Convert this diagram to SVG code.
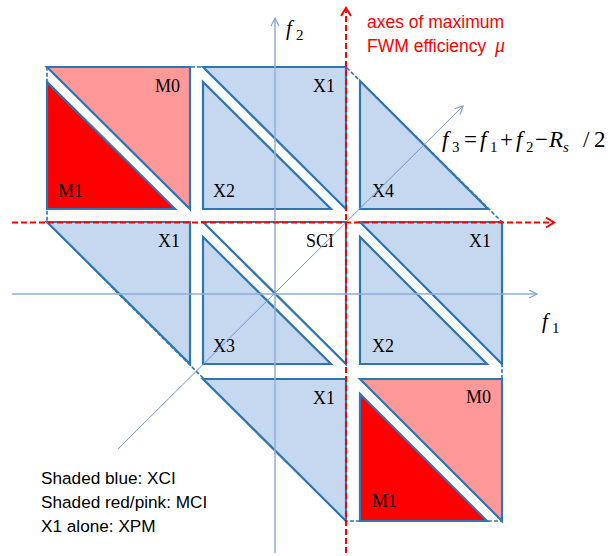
<svg xmlns="http://www.w3.org/2000/svg" width="612" height="556" viewBox="0 0 612 556">
<style>
.blue{fill:#C6D8EF;stroke:#2E75B6;stroke-width:2.2;stroke-linejoin:miter}
.pink{fill:#FF9999;stroke:#2E75B6;stroke-width:2.2}
.red{fill:#FF0000;stroke:#2E75B6;stroke-width:2.2}
.white{fill:#FFFFFF;stroke:#2E75B6;stroke-width:2.2}
.hex{fill:none;stroke:#2E75B6;stroke-width:1.6;stroke-dasharray:4 2}
.axis{stroke:#8EAEDC;stroke-width:1.5;fill:none}
.axis3{stroke:#6A96D4;stroke-width:1;fill:none}
.redax{stroke:#FF0000;stroke-width:2;stroke-dasharray:6 3;fill:none}
.lbl{font-family:"Liberation Serif","Times New Roman",serif;font-size:18px;fill:#000}
.math{font-family:"Liberation Serif","Times New Roman",serif;fill:#000}
.note{font-family:"Liberation Sans",Arial,sans-serif;font-size:17.2px;fill:#000}
.rnote{font-family:"Liberation Sans",Arial,sans-serif;font-size:17.5px;fill:#FF0000}
</style>
<defs>
<marker id="arR" markerUnits="userSpaceOnUse" markerWidth="14" markerHeight="14" refX="10" refY="6" orient="auto"><path d="M2,1 L10,6 L2,11" fill="none" stroke="#FF0000" stroke-width="2"/></marker>
<marker id="arB" markerUnits="userSpaceOnUse" markerWidth="12" markerHeight="12" refX="9" refY="5" orient="auto"><path d="M1,1 L9,5 L1,9" fill="none" stroke="#7FA3D8" stroke-width="1.2"/></marker>
</defs>
<rect width="612" height="556" fill="#FFFFFF"/>

<g id="hexagon"><polygon class="hex" points="47,67 346,67 502,222 502,521 346,521 47,222"/></g>

<g id="tl-M0"><polygon class="pink" points="47,67 190,67 190,209"/><text class="lbl" x="155" y="92">M0</text></g>
<g id="tl-M1"><polygon class="red" points="47,82 47,209 175,209"/><text class="lbl" x="58" y="197">M1</text></g>
<g id="tm-X1"><polygon class="blue" points="203,67 346,67 346,209"/><text class="lbl" x="313" y="92">X1</text></g>
<g id="tm-X2"><polygon class="blue" points="203,82 203,209 331,209"/><text class="lbl" x="213" y="197">X2</text></g>
<g id="tr-X4"><polygon class="blue" points="360,81 360,209 488,209"/><text class="lbl" x="372" y="197">X4</text></g>
<g id="ml-X1"><polygon class="blue" points="47,222 190,222 190,364"/><text class="lbl" x="158" y="247">X1</text></g>
<g id="mm-SCI"><polygon class="white" points="203,222 346,222 346,364"/><text class="lbl" x="306" y="247">SCI</text></g>
<g id="mm-X3"><polygon class="blue" points="203,237 203,364 331,364"/><text class="lbl" x="213" y="352">X3</text></g>
<g id="mr-X1"><polygon class="blue" points="360,222 502,222 502,364"/><text class="lbl" x="469" y="247">X1</text></g>
<g id="mr-X2"><polygon class="blue" points="360,237 360,364 487,364"/><text class="lbl" x="372" y="352">X2</text></g>
<g id="bm-X1"><polygon class="blue" points="203,379 346,379 346,521"/><text class="lbl" x="313" y="404">X1</text></g>
<g id="br-M0"><polygon class="pink" points="360,379 502,379 502,521"/><text class="lbl" x="466" y="403">M0</text></g>
<g id="br-M1"><polygon class="red" points="360,394 360,521 487,521"/><text class="lbl" x="372" y="507">M1</text></g>

<g id="connectors">
<line class="axis" x1="275" y1="553" x2="275" y2="18" marker-end="url(#arB)"/>
<line class="axis" x1="12" y1="294" x2="537" y2="294" marker-end="url(#arB)"/>
<line class="axis3" x1="118" y1="449" x2="463" y2="106" marker-end="url(#arB)"/>
<line class="redax" x1="346" y1="553" x2="346" y2="8" marker-end="url(#arR)"/>
<line class="redax" x1="12" y1="222.5" x2="554" y2="222.5" marker-end="url(#arR)"/>
</g>

<g id="axis-labels">
<text class="math" font-size="21"><tspan x="286" y="35" font-style="italic">f</tspan><tspan x="296" y="40" font-size="15">2</tspan></text>
<text class="math" font-size="21"><tspan x="542" y="328" font-style="italic">f</tspan><tspan x="552" y="333" font-size="15">1</tspan></text>
<text class="math" font-size="23"><tspan x="442" y="147" font-style="italic">f</tspan><tspan x="452" y="152" font-size="15">3</tspan><tspan x="464" y="147">=</tspan><tspan x="480" y="147" font-style="italic">f</tspan><tspan x="490" y="152" font-size="15">1</tspan><tspan x="500" y="147">+</tspan><tspan x="516" y="147" font-style="italic">f</tspan><tspan x="526" y="152" font-size="15">2</tspan><tspan x="535" y="147">−</tspan><tspan x="549" y="147" font-style="italic">R</tspan><tspan x="563" y="152" font-size="15" font-style="italic">s</tspan><tspan x="583" y="147">/</tspan><tspan x="594" y="147">2</tspan></text>
<text class="rnote" x="367" y="28">axes of maximum</text>
<text class="rnote" x="367" y="52">FWM efficiency <tspan x="495" font-family="Liberation Serif,serif" font-style="italic" font-size="20">μ</tspan></text>
</g>

<g id="legend">
<text class="note" x="41" y="484">Shaded blue: XCI</text>
<text class="note" x="41" y="508">Shaded red/pink: MCI</text>
<text class="note" x="41" y="532">X1 alone: XPM</text>
</g>
</svg>
